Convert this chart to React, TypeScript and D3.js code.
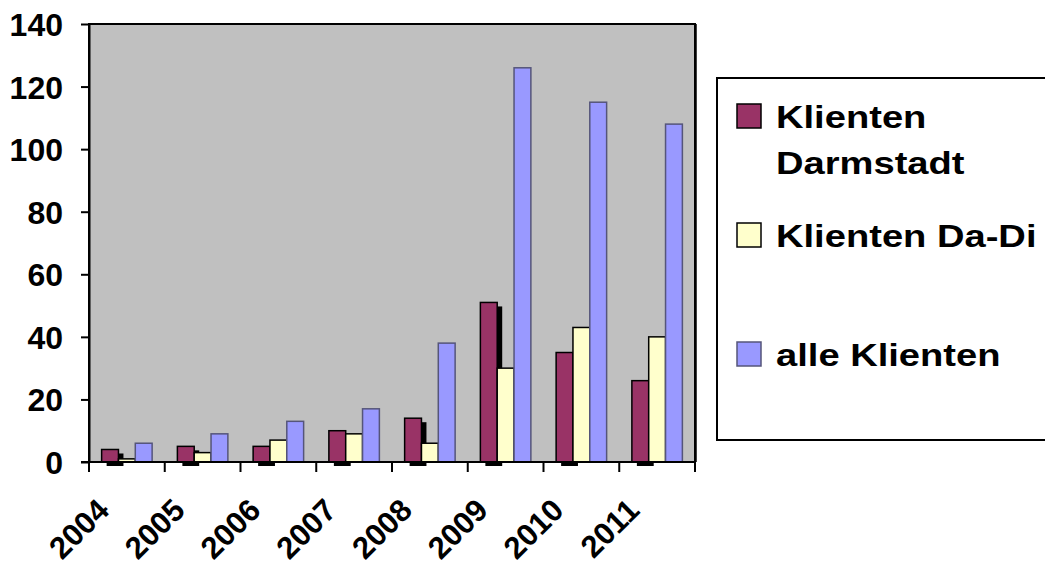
import { useRef, useEffect } from 'react';
import * as d3 from 'd3';

const years = ['2004', '2005', '2006', '2007', '2008', '2009', '2010', '2011'];
const klientenDarmstadt = [4, 5, 5, 10, 14, 51, 35, 26];
const klientenDaDi = [1, 3, 7, 9, 6, 30, 43, 40];
const alleKlienten = [6, 9, 13, 17, 38, 126, 115, 108];
const yTicks = [0, 20, 40, 60, 80, 100, 120, 140];

const seriesNames = ['Klienten Darmstadt', 'Klienten Da-Di', 'alle Klienten'];
const seriesColors = ['#993366', '#FFFFCC', '#9999FF'];
const seriesStrokes = ['#000000', '#000000', '#55557a'];

export default function App() {
  const svgRef = useRef<SVGSVGElement>(null);
  const width = 1045;
  const height = 567;

  useEffect(() => {
    if (!svgRef.current) return;
    document.body.style.margin = '0';

    const svg = d3.select(svgRef.current);
    svg.selectAll('*').remove();

    const font = '"Liberation Sans", Arial, sans-serif';
    const plot = { left: 89, right: 695, top: 24, bottom: 462 };

    const x = d3.scaleBand<string>()
      .domain(years)
      .range([plot.left, plot.right]);

    // excel style: gap width 150% of one bar
    const barW = x.bandwidth() / 4.5;
    const gap = barW * 1.5;

    const y = d3.scaleLinear()
      .domain([0, 140])
      .range([plot.bottom, plot.top]);

    // plot area
    svg.append('rect')
      .attr('x', plot.left)
      .attr('y', plot.top)
      .attr('width', plot.right - plot.left)
      .attr('height', plot.bottom - plot.top)
      .attr('fill', '#C0C0C0')
      .attr('stroke', '#000')
      .attr('stroke-width', 2);
    svg.append('line')
      .attr('x1', plot.right + 1).attr('x2', plot.right + 1)
      .attr('y1', plot.top).attr('y2', plot.bottom)
      .attr('stroke', '#000').attr('stroke-width', 1.5);

    const series = [klientenDarmstadt, klientenDaDi, alleKlienten];

    // shadow behind the Darmstadt bars
    svg.append('g')
      .selectAll('rect')
      .data(klientenDarmstadt)
      .join('rect')
      .attr('x', (_, i) => (x(years[i]) as number) + gap / 2 + 5)
      .attr('y', d => y(d) + 4)
      .attr('width', barW)
      .attr('height', d => y(0) - y(d))
      .attr('fill', '#000');

    series.forEach((vals, s) => {
      svg.append('g')
        .selectAll('rect')
        .data(vals)
        .join('rect')
        .attr('x', (_, i) => (x(years[i]) as number) + gap / 2 + s * barW)
        .attr('y', d => y(d))
        .attr('width', barW)
        .attr('height', d => y(0) - y(d))
        .attr('fill', seriesColors[s])
        .attr('stroke', seriesStrokes[s])
        .attr('stroke-width', 1.5);
    });

    // y axis
    const yAxis = svg.append('g')
      .attr('transform', `translate(${plot.left},0)`)
      .call(d3.axisLeft(y).tickValues(yTicks).tickSize(8).tickSizeOuter(0).tickPadding(18));
    yAxis.select('.domain').attr('stroke-width', 2);
    yAxis.selectAll('line').attr('stroke-width', 2);
    yAxis.selectAll('text')
      .attr('font-family', font)
      .attr('font-weight', 'bold')
      .attr('font-size', 32)
      .attr('fill', '#000')
      .attr('dy', '0.36em');

    // x axis with ticks at band edges
    svg.append('line')
      .attr('x1', plot.left - 8).attr('x2', plot.right)
      .attr('y1', plot.bottom).attr('y2', plot.bottom)
      .attr('stroke', '#000').attr('stroke-width', 2);
    const edges = years.map(yr => x(yr) as number).concat([plot.right]);
    svg.append('g')
      .selectAll('line')
      .data(edges)
      .join('line')
      .attr('x1', d => d).attr('x2', d => d)
      .attr('y1', plot.bottom).attr('y2', plot.bottom + 10)
      .attr('stroke', '#000').attr('stroke-width', 2);

    svg.append('g')
      .selectAll('text')
      .data(years)
      .join('text')
      .attr('transform', d => `translate(${(x(d) as number) + x.bandwidth() / 2 - 16},512) rotate(-45)`)
      .attr('text-anchor', 'end')
      .attr('font-family', font)
      .attr('font-weight', 'bold')
      .attr('font-size', 31)
      .text(d => d);

    // legend
    const legend = svg.append('g');
    legend.append('rect')
      .attr('x', 717).attr('y', 78)
      .attr('width', 340).attr('height', 362)
      .attr('fill', '#fff')
      .attr('stroke', '#000')
      .attr('stroke-width', 2);

    const swatchY = [104, 223, 342];
    const labelLines = [['Klienten', 'Darmstadt'], ['Klienten Da-Di'], ['alle Klienten']];
    seriesNames.forEach((_, s) => {
      legend.append('rect')
        .attr('x', 737).attr('y', swatchY[s])
        .attr('width', 24).attr('height', 24)
        .attr('fill', seriesColors[s])
        .attr('stroke', seriesStrokes[s])
        .attr('stroke-width', 1.5);
      const t = legend.append('g')
        .attr('transform', `translate(776,${swatchY[s] + 24}) scale(1.23,1)`);
      labelLines[s].forEach((line, li) => {
        t.append('text')
          .attr('x', 0)
          .attr('y', li * 46)
          .attr('font-family', font)
          .attr('font-weight', 'bold')
          .attr('font-size', 31)
          .text(line);
      });
    });
  }, []);

  return (
    <svg
      ref={svgRef}
      width={width}
      height={height}
      style={{ display: 'block', background: '#fff' }}
    />
  );
}
